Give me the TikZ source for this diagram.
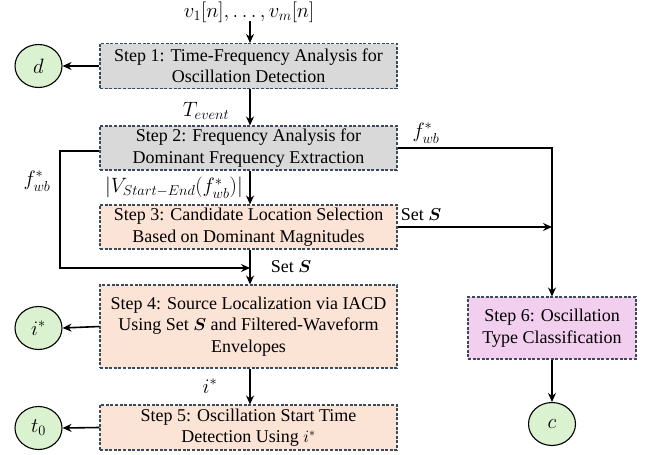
\documentclass[tikz,border=0pt]{standalone}
\usepackage{amsmath}
\usepackage{bm}
\usepackage{fontspec}
\setmainfont{Liberation Serif}
\usetikzlibrary{shapes.geometric,arrows.meta}
\definecolor{bordercol}{HTML}{3B4A5A}
\definecolor{greyfill}{HTML}{D9D9D9}
\definecolor{salmon}{HTML}{FBE3D6}
\definecolor{pinkfill}{HTML}{F2CEEF}
\definecolor{greenfill}{HTML}{DAF2D0}
\tikzset{
  stepbox/.style={draw=bordercol, line width=1.1pt, dash pattern=on 3pt off 1.6pt, align=center, inner sep=0pt, font=\fontsize{18}{21.5}\selectfont},
  outcircle/.style={ellipse, draw=black, line width=1.1pt, fill=greenfill, minimum width=47pt, minimum height=43pt, inner sep=0pt, font=\fontsize{21}{24}\selectfont},
  flow/.style={line width=1.6pt, -{Stealth[length=9pt,width=8pt,inset=3pt]}},
  lbl/.style={font=\fontsize{18}{21}\selectfont, inner sep=0pt},
  mlbl/.style={font=\fontsize{21}{24}\selectfont, inner sep=0pt}
}
\begin{document}
\begin{tikzpicture}[x=1pt,y=-1pt]
\useasboundingbox (0,0) rectangle (651,455);
\fill[white] (0,0) rectangle (651,455);
% boxes
\node[stepbox, fill=greyfill, minimum width=297pt, minimum height=45pt] (s1) at (248.5,66) {Step 1: Time-Frequency Analysis for\\Oscillation Detection};
\node[stepbox, fill=greyfill, minimum width=297pt, minimum height=44pt] (s2) at (248.5,148) {Step 2: Frequency Analysis for\\Dominant Frequency Extraction};
\node[stepbox, fill=salmon, minimum width=297pt, minimum height=44pt] (s3) at (248.5,227) {Step 3: Candidate Location Selection\\Based on Dominant Magnitudes};
\node[stepbox, fill=salmon, minimum width=297pt, minimum height=83pt] (s4) at (248.5,326.5) {Step 4: Source Localization via IACD\\Using Set $\bm{S}$ and Filtered-Waveform\\Envelopes};
\node[stepbox, fill=salmon, minimum width=297pt, minimum height=45pt] (s5) at (248.5,427.5) {Step 5: Oscillation Start Time\\Detection Using $i^{*}$};
\node[stepbox, fill=pinkfill, minimum width=168pt, minimum height=62pt] (s6) at (552,328) {Step 6: Oscillation\\Type Classification};
% outputs
\node[outcircle] (d) at (38.5,66) {$d$};
\node[outcircle] (istar) at (38.5,328) {$i^{*}$};
\node[outcircle] (t0) at (38.5,428) {$t_0$};
\node[outcircle] (c) at (552,424) {$c$};
% input
\node[mlbl] (in) at (249,12) {$v_1[n],\ldots,v_m[n]$};
\coordinate (inend) at (250,21);
% coordinates
\coordinate (jl) at (250,268);
\coordinate (cl) at (60,268);
% connectors
\draw[flow] (inend) -- (inend |- s1.north);
\draw[flow] (s1.west) -- (d.east);
\draw[flow] (s1.south -| inend) -- (s2.north -| inend);
\draw[flow] (s2.south -| inend) -- (s3.north -| inend);
\draw[flow] (s3.south -| inend) -- (s4.north -| inend);
\draw[flow] (s4.south -| inend) -- (s5.north -| inend);
\draw[flow] (s4.west) -- (istar.east);
\draw[flow] (s5.west) -- (t0.east);
\draw[flow] ([yshift=-3pt]s2.west) -- ([yshift=-3pt]s2.west -| cl) -- (cl) -- (jl);
\draw[flow] (s2.east) -| (s6.north);
\draw[flow] (s3.east) -- (s3.east -| s6.north);
\draw[flow] (s6.south) -- (c.north);
% labels
\node[mlbl] (lt) at (206,111) {$T_{event}$};
\node[mlbl, anchor=east] (lv) at (243,188) {$|V_{Start-End}(f^{*}_{wb})|$};
\node[mlbl] (lf1) at (37,181) {$f^{*}_{wb}$};
\node[mlbl] (lf2) at (426,133) {$f^{*}_{wb}$};
\node[lbl] (ls1) at (291,267) {Set $\bm{S}$};
\node[lbl] (ls2) at (421,215) {Set $\bm{S}$};
\node[mlbl] (li) at (210,386) {$i^{*}$};
\end{tikzpicture}
\end{document}
